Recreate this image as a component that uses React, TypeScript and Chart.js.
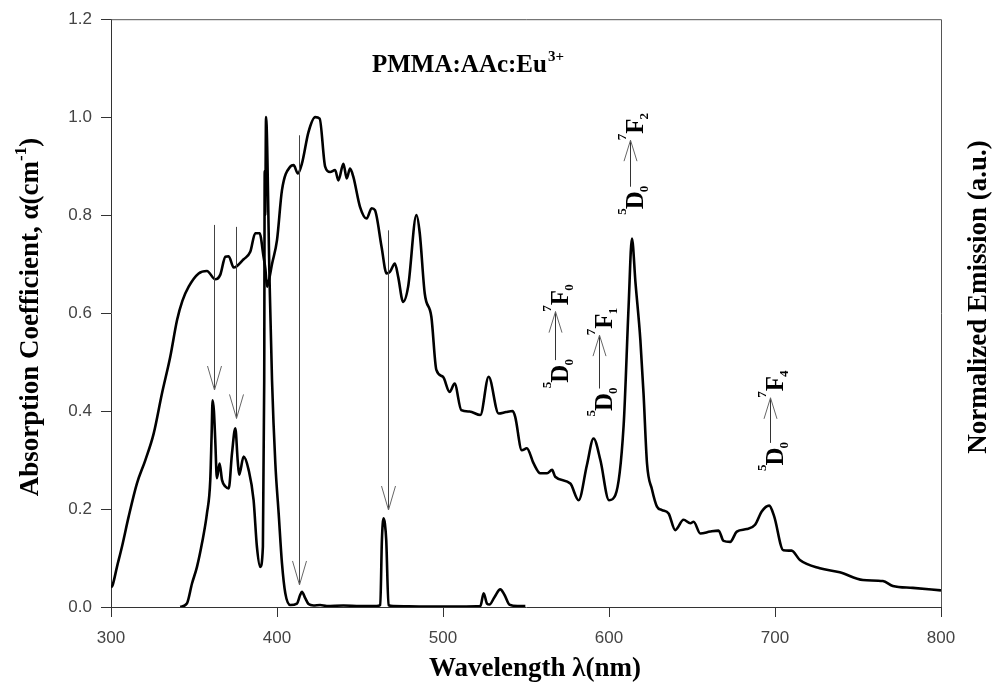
import React, { useEffect, useRef } from "react";
import { Chart, registerables } from "chart.js";

Chart.register(...registerables);

// Absorption coefficient (thick curve spanning 300-800 nm)
const absWl = [300, 301, 303.6, 306.6, 310.6, 315.6, 320.7, 325.7, 330.7, 335.7, 339.8, 343, 346.8, 352.8, 357.8, 362.8, 365.8, 368.9, 370.9, 373.9, 379.9, 383.9, 386.9, 389.5, 391.9, 393, 394, 395, 397, 400, 403, 408, 410, 412.6, 415, 419, 423, 425.7, 429, 432, 435, 437, 440, 442, 444, 446, 450, 454, 457, 459, 463, 466, 468, 471, 473, 476, 479, 484, 486, 489, 493, 496, 500, 504, 507, 511, 516, 522.5, 527.5, 533.5, 538, 542, 543.5, 547.5, 550.5, 554.6, 558.6, 562.7, 565.7, 567.6, 576.7, 581.7, 586.7, 590.7, 594.8, 600, 603.8, 608.8, 611.8, 613.8, 616, 618.9, 620.8, 622.9, 625.9, 628.9, 631.9, 635.9, 639.9, 644.9, 649, 651, 655, 661, 666, 669, 673, 677, 683, 688, 692, 696.5, 699.5, 705, 710, 715, 727, 739, 753, 765, 771, 783, 800];
const absVal = [0.040, 0.045, 0.082, 0.123, 0.184, 0.252, 0.300, 0.354, 0.436, 0.511, 0.586, 0.625, 0.654, 0.681, 0.686, 0.669, 0.678, 0.715, 0.716, 0.693, 0.710, 0.725, 0.763, 0.763, 0.715, 0.690, 0.654, 0.665, 0.700, 0.749, 0.851, 0.899, 0.902, 0.885, 0.905, 0.970, 1.000, 0.997, 0.899, 0.888, 0.892, 0.871, 0.905, 0.875, 0.895, 0.878, 0.817, 0.793, 0.814, 0.810, 0.735, 0.681, 0.684, 0.701, 0.674, 0.623, 0.654, 0.800, 0.763, 0.640, 0.592, 0.484, 0.470, 0.439, 0.456, 0.402, 0.399, 0.392, 0.470, 0.395, 0.398, 0.400, 0.388, 0.320, 0.324, 0.293, 0.273, 0.273, 0.280, 0.266, 0.252, 0.218, 0.290, 0.344, 0.300, 0.218, 0.228, 0.370, 0.613, 0.752, 0.660, 0.545, 0.436, 0.293, 0.240, 0.205, 0.198, 0.191, 0.157, 0.178, 0.171, 0.174, 0.150, 0.154, 0.156, 0.135, 0.133, 0.154, 0.159, 0.168, 0.195, 0.207, 0.185, 0.116, 0.115, 0.096, 0.079, 0.071, 0.055, 0.053, 0.043, 0.039, 0.034];

// Normalized emission / excitation curve (340-550 nm)
const emWl = [341.7, 345.7, 348.8, 351.8, 354.8, 357.8, 359.8, 360.6, 361.2, 362, 362.8, 363.8, 365.4, 366.9, 368.9, 370.9, 372.9, 374.9, 376.3, 377.2, 379.9, 382.9, 385.9, 387.9, 389.9, 391.5, 392.3, 392.6, 392.9, 393.4, 395.5, 397, 399, 401, 403, 405, 408, 412, 414, 415, 417, 419, 422, 426, 430, 440, 450, 460, 462.2, 463.2, 464.2, 465, 465.8, 467.2, 470, 490, 510, 522.5, 524.5, 526.5, 528, 531, 534.5, 537, 540, 545, 549.6];
const emVal = [0.0, 0.007, 0.048, 0.082, 0.130, 0.191, 0.259, 0.350, 0.422, 0.400, 0.341, 0.263, 0.293, 0.259, 0.246, 0.242, 0.314, 0.365, 0.300, 0.270, 0.307, 0.280, 0.218, 0.123, 0.082, 0.123, 0.463, 0.890, 0.800, 1.000, 0.670, 0.463, 0.293, 0.191, 0.089, 0.028, 0.004, 0.007, 0.025, 0.031, 0.018, 0.006, 0.003, 0.004, 0.002, 0.003, 0.002, 0.002, 0.004, 0.137, 0.181, 0.170, 0.137, 0.004, 0.002, 0.001, 0.001, 0.002, 0.028, 0.007, 0.005, 0.020, 0.036, 0.025, 0.005, 0.002, 0.002];

// Thin excitation arrows (wavelength, top value, tip value)
const arrowWl = [361.8, 375.3, 413.4, 466.9];
const arrowTop = [0.78, 0.776, 0.963, 0.769];
const arrowTip = [0.443, 0.385, 0.045, 0.198];

// Transition labels 5D0 -> 7Fn
const transWl = [567.6, 593.7, 612.8, 696.7];
const transTip = [0.603, 0.555, 0.953, 0.427];
const transBottom = [0.504, 0.446, 0.858, 0.335];
const transLevel = ["0", "1", "2", "4"];

const xTicks = [300, 400, 500, 600, 700, 800];
const yTicks = [0, 0.2, 0.4, 0.6, 0.8, 1.0, 1.2];

const SERIF = '"Liberation Serif", "Times New Roman", serif';

const overlayPlugin = {
  id: "overlay",
  afterDatasetsDraw(chart: any) {
    const ctx = chart.ctx as CanvasRenderingContext2D;
    const xs = chart.scales.x;
    const ys = chart.scales.y;
    const area = chart.chartArea;
    ctx.save();
    // frame top/right
    ctx.strokeStyle = "#555";
    ctx.lineWidth = 1;
    ctx.beginPath();
    ctx.moveTo(area.left, area.top + 0.5);
    ctx.lineTo(area.right + 0.5, area.top + 0.5);
    ctx.lineTo(area.right + 0.5, area.bottom);
    ctx.stroke();

    // thin arrows
    for (let i = 0; i < arrowWl.length; i++) {
      const x = Math.round(xs.getPixelForValue(arrowWl[i])) + 0.5;
      const yt = ys.getPixelForValue(arrowTop[i]);
      const yp = ys.getPixelForValue(arrowTip[i]);
      ctx.strokeStyle = "#444";
      ctx.lineWidth = 1;
      ctx.beginPath();
      ctx.moveTo(x, yt);
      ctx.lineTo(x, yp);
      ctx.stroke();
      ctx.strokeStyle = "#666";
      ctx.beginPath();
      ctx.moveTo(x - 7, yp - 24);
      ctx.lineTo(x, yp);
      ctx.lineTo(x + 7, yp - 24);
      ctx.stroke();
    }

    // transition labels
    const big = `bold 25px ${SERIF}`;
    const small = `bold 13px ${SERIF}`;
    for (let i = 0; i < transWl.length; i++) {
      const x = Math.round(xs.getPixelForValue(transWl[i])) + 0.5;
      const yTip = ys.getPixelForValue(transTip[i]);
      const yBot = ys.getPixelForValue(transBottom[i]);
      const L = yBot - yTip;
      ctx.strokeStyle = "#333";
      ctx.lineWidth = 1;
      ctx.beginPath();
      ctx.moveTo(x, yTip);
      ctx.lineTo(x, yBot);
      ctx.stroke();
      ctx.strokeStyle = "#666";
      ctx.beginPath();
      ctx.moveTo(x - 6.5, yTip + 21);
      ctx.lineTo(x, yTip);
      ctx.lineTo(x + 6.5, yTip + 21);
      ctx.stroke();

      ctx.save();
      ctx.translate(x, yTip);
      ctx.rotate(-Math.PI / 2);
      ctx.fillStyle = "#000";
      ctx.textAlign = "left";
      ctx.textBaseline = "alphabetic";
      const base = 12;
      ctx.font = small;
      const w7 = ctx.measureText("7").width;
      ctx.fillText("7", 0, base - 17);
      ctx.font = big;
      const wF = ctx.measureText("F").width;
      ctx.fillText("F", w7, base);
      ctx.font = small;
      ctx.fillText(transLevel[i], w7 + wF - 1, base + 5);

      ctx.font = big;
      const wD = ctx.measureText("D").width;
      ctx.font = small;
      const w0 = ctx.measureText("0").width;
      const w5 = ctx.measureText("5").width;
      const u0 = -L + 2 - w0 - wD;
      ctx.fillText("5", u0 - w5 + 1, base - 17);
      ctx.font = big;
      ctx.fillText("D", u0, base);
      ctx.font = small;
      ctx.fillText("0", u0 + wD - 1, base + 5);
      ctx.restore();
    }

    // sample label
    ctx.fillStyle = "#000";
    ctx.textAlign = "left";
    ctx.textBaseline = "alphabetic";
    ctx.font = `bold 25px ${SERIF}`;
    const sample = "PMMA:AAc:Eu";
    ctx.fillText(sample, 372, 72);
    const ws = ctx.measureText(sample).width;
    ctx.font = `bold 15px ${SERIF}`;
    ctx.fillText("3+", 372 + ws + 1, 61);

    // axis titles
    ctx.font = `bold 27px ${SERIF}`;
    ctx.textAlign = "center";
    ctx.fillText("Wavelength \u03bb(nm)", 535, 676);

    // left title
    ctx.save();
    ctx.translate(38, 317);
    ctx.rotate(-Math.PI / 2);
    ctx.textAlign = "left";
    const p1 = "Absorption Coefficient, \u03b1(cm";
    const sup = "-1";
    const p3 = ")";
    ctx.font = `bold 27px ${SERIF}`;
    const w1 = ctx.measureText(p1).width;
    const w3 = ctx.measureText(p3).width;
    ctx.font = `bold 17px ${SERIF}`;
    const w2 = ctx.measureText(sup).width;
    const start = -(w1 + w2 + w3) / 2;
    ctx.font = `bold 27px ${SERIF}`;
    ctx.fillText(p1, start, 0);
    ctx.font = `bold 17px ${SERIF}`;
    ctx.fillText(sup, start + w1, -12);
    ctx.font = `bold 27px ${SERIF}`;
    ctx.fillText(p3, start + w1 + w2, 0);
    ctx.restore();

    // right title
    ctx.save();
    ctx.translate(986, 297);
    ctx.rotate(-Math.PI / 2);
    ctx.textAlign = "center";
    ctx.font = `bold 27px ${SERIF}`;
    ctx.fillText("Normalized Emission (a.u.)", 0, 0);
    ctx.restore();

    ctx.restore();
  },
};

export default function App() {
  const ref = useRef<HTMLCanvasElement | null>(null);
  useEffect(() => {
    document.body.style.margin = "0";
    const canvas = ref.current;
    if (!canvas) return;
    const absData = absWl.map((x, i) => ({ x, y: absVal[i] }));
    const emData = emWl.map((x, i) => ({ x, y: emVal[i] }));
    const tickFont = { family: '"Liberation Sans", Arial, sans-serif', size: 17 };
    const chart = new Chart(canvas, {
      type: "line",
      data: {
        datasets: [
          {
            data: absData,
            borderColor: "#000",
            borderWidth: 2.6,
            pointRadius: 0,
            tension: 0,
            cubicInterpolationMode: "monotone",
          },
          {
            data: emData,
            borderColor: "#000",
            borderWidth: 2.6,
            pointRadius: 0,
            tension: 0,
            cubicInterpolationMode: "monotone",
          },
        ],
      },
      options: {
        animation: false,
        responsive: false,
        devicePixelRatio: 1,
        events: [],
        layout: { padding: { top: 19, right: 53, left: 0, bottom: 0 } },
        plugins: { legend: { display: false }, tooltip: { enabled: false }, title: { display: false } },
        scales: {
          x: {
            type: "linear",
            min: 300,
            max: 800,
            afterBuildTicks: (scale: any) => {
              scale.ticks = xTicks.map((v) => ({ value: v }));
            },
            afterFit: (scale: any) => {
              scale.height = 75;
            },
            ticks: {
              color: "#444",
              font: tickFont,
              padding: 11,
              maxRotation: 0,
              callback: (v: any) => String(v),
            },
            grid: { drawOnChartArea: false, drawTicks: true, tickLength: 10, color: "#333" },
            border: { display: true, color: "#333", width: 1 },
          },
          y: {
            type: "linear",
            min: 0,
            max: 1.2,
            afterBuildTicks: (scale: any) => {
              scale.ticks = yTicks.map((v) => ({ value: v }));
            },
            afterFit: (scale: any) => {
              scale.width = 111;
            },
            ticks: {
              color: "#444",
              font: tickFont,
              padding: 9,
              callback: (v: any) => Number(v).toFixed(1),
            },
            grid: { drawOnChartArea: false, drawTicks: true, tickLength: 10, color: "#333" },
            border: { display: true, color: "#333", width: 1 },
          },
        },
      },
      plugins: [overlayPlugin],
    } as any);
    return () => chart.destroy();
  }, []);
  return (
    <div style={{ width: 994, height: 682, background: "#fff" }}>
      <canvas ref={ref} width={994} height={682} style={{ display: "block" }} />
    </div>
  );
}
